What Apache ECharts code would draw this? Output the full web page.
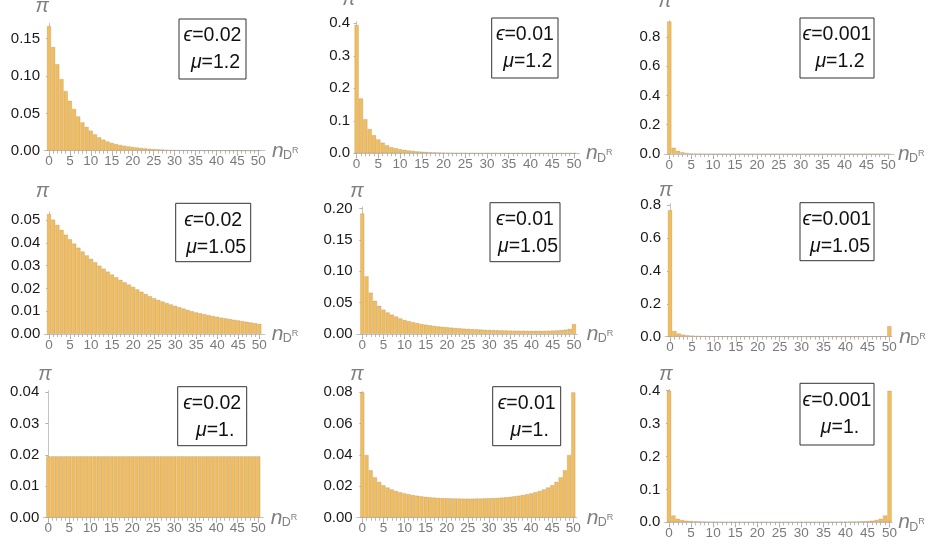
<!DOCTYPE html>
<html>
<head>
<meta charset="utf-8">
<script src="https://cdn.jsdelivr.net/npm/echarts@6/dist/echarts.min.js"></script>
<style>html,body{margin:0;padding:0;background:#fff}#c{width:930px;height:544px}</style>
</head>
<body>
<div id="c"></div>
<script>
// ---- data ----
const nValues = [0,1,2,3,4,5,6,7,8,9,10,11,12,13,14,15,16,17,18,19,20,21,22,23,24,25,26,27,28,29,30,31,32,33,34,35,36,37,38,39,40,41,42,43,44,45,46,47,48,49,50];
const xTickLabels = [0,5,10,15,20,25,30,35,40,45,50];

const pi_e002_mu120 = [0.167,0.139,0.116,0.096,0.080,0.067,0.056,0.046,0.038,0.032,
 0.027,0.022,0.018,0.015,0.0125,0.0105,0.0090,0.0078,0.0068,0.0059,
 0.0051,0.0044,0.0038,0.0032,0.0027,0.0023,0.0020,0.0017,0.0014,0.0012,
 0.0010,0.0008,0.0007,0.0006,0.0005,0.0004,0.00035,0.0003,0.00025,0.0002,
 0.00017,0.00014,0.00012,0.0001,0.00009,0.00008,0.00007,0.00006,0.00005,0.00004,
 0.00004];
const pi_e001_mu120 = [0.395,0.169,0.105,0.075,0.056,0.043,0.033,0.025,0.019,0.016,
 0.013,0.011,0.009,0.0075,0.0062,0.0052,0.0043,0.0036,0.0030,0.0025,
 0.0021,0.0017,0.0014,0.0012,0.0010,0.0008,0.0007,0.0006,0.0005,0.0004,
 0.00035,0.0003,0.00025,0.0002,0.00017,0.00014,0.00012,0.0001,0.00009,0.00008,
 0.00007,0.00006,0.00005,0.00004,0.00004,0.00003,0.00003,0.00003,0.00002,0.00002,
 0.00002];
const pi_e0001_mu120 = [0.905,0.043,0.022,0.013,0.008,0.005,0.0035,0.0025,0.0018,0.0013,
 0.0010,0.0008,0.0006,0.0005,0.0004,0.0003,0.00025,0.0002,0.00015,0.00012,
 0.0001,0.00008,0.00007,0.00006,0.00005,0.00004,0.00003,0.00003,0.00002,0.00002,
 0.00002,0.00001,0.00001,0.00001,0.00001,0.00001,0.00001,0.00001,0.00001,0.00001,
 0.00001,0.00001,0.00001,0.00001,0.00001,0.00001,0.00001,0.00001,0.00001,0.00001,
 0.00001];
const pi_e002_mu105 = [0.0526,0.0502,0.0479,0.0457,0.0436,0.0416,0.0397,0.0379,0.0362,0.0345,
 0.0330,0.0315,0.0300,0.0287,0.0274,0.0261,0.0249,0.0238,0.0227,0.0217,
 0.0207,0.0196,0.0186,0.0176,0.0166,0.0157,0.0150,0.0143,0.0136,0.0130,
 0.0124,0.0118,0.0112,0.0106,0.0100,0.0095,0.0091,0.0087,0.0083,0.0079,
 0.0076,0.0072,0.0069,0.0066,0.0063,0.0060,0.0057,0.0054,0.0051,0.0048,
 0.0045];
const pi_e001_mu105 = [0.192,0.092,0.066,0.053,0.045,0.039,0.0345,0.031,0.028,0.025,
 0.0225,0.0205,0.019,0.0175,0.016,0.015,0.014,0.013,0.0122,0.0115,
 0.011,0.0103,0.0097,0.0092,0.0087,0.0083,0.0079,0.0076,0.0072,0.0069,
 0.0067,0.0064,0.0062,0.0060,0.0058,0.0056,0.0055,0.0054,0.0053,0.0052,
 0.0052,0.0052,0.0052,0.0053,0.0054,0.0056,0.0059,0.0064,0.0071,0.0083,
 0.016];
const pi_e0001_mu105 = [0.77,0.035,0.020,0.013,0.009,0.007,0.0055,0.0045,0.0038,0.0032,
 0.0028,0.0025,0.0022,0.0020,0.0018,0.0016,0.0015,0.0014,0.0013,0.0012,
 0.0011,0.0010,0.0010,0.0009,0.0009,0.0008,0.0008,0.0004,0.0004,0.0004,
 0.0004,0.0004,0.0004,0.0004,0.0004,0.0004,0.0004,0.0004,0.0004,0.0004,
 0.0004,0.0004,0.0004,0.0004,0.0004,0.0012,0.0014,0.0017,0.0022,0.0032,
 0.065];
const pi_e002_mu100 = [0.0196,0.0196,0.0196,0.0196,0.0196,0.0196,0.0196,0.0196,0.0196,0.0196,
 0.0196,0.0196,0.0196,0.0196,0.0196,0.0196,0.0196,0.0196,0.0196,0.0196,
 0.0196,0.0196,0.0196,0.0196,0.0196,0.0196,0.0196,0.0196,0.0196,0.0196,
 0.0196,0.0196,0.0196,0.0196,0.0196,0.0196,0.0196,0.0196,0.0196,0.0196,
 0.0196,0.0196,0.0196,0.0196,0.0196,0.0196,0.0196,0.0196,0.0196,0.0196,
 0.0196];
const pi_e001_mu100 = [0.080,0.040,0.0303,0.0258,0.0229,0.0208,0.0193,0.0181,0.0171,0.0163,
 0.0156,0.0150,0.0145,0.0141,0.0137,0.0134,0.0131,0.0129,0.0127,0.0126,
 0.0125,0.0124,0.0123,0.0123,0.0122,0.0122,0.0122,0.0123,0.0123,0.0124,
 0.0125,0.0126,0.0127,0.0129,0.0131,0.0134,0.0137,0.0141,0.0145,0.0150,
 0.0156,0.0163,0.0171,0.0181,0.0193,0.0208,0.0229,0.0258,0.0303,0.040,
 0.080];
const pi_e0001_mu100 = [0.40,0.021,0.011,0.007,0.005,0.004,0.0033,0.0028,0.0025,0.0022,
 0.0020,0.0018,0.0017,0.0016,0.0015,0.0014,0.0014,0.0013,0.0013,0.0013,
 0.0012,0.0012,0.0012,0.0012,0.0012,0.0012,0.0012,0.0012,0.0012,0.0012,
 0.0012,0.0013,0.0013,0.0013,0.0014,0.0014,0.0015,0.0016,0.0017,0.0018,
 0.0020,0.0022,0.0025,0.0028,0.0033,0.0040,0.0050,0.0070,0.0110,0.021,
 0.40];

const yTicks1 = [0,0.05,0.10,0.15];
const yTicks2 = [0,0.1,0.2,0.3,0.4];
const yTicks3 = [0,0.2,0.4,0.6,0.8];
const yTicks4 = [0,0.01,0.02,0.03,0.04,0.05];
const yTicks5 = [0,0.05,0.10,0.15,0.20];
const yTicks6 = [0,0.2,0.4,0.6,0.8];
const yTicks7 = [0,0.01,0.02,0.03,0.04];
const yTicks8 = [0,0.02,0.04,0.06,0.08];
const yTicks9 = [0,0.1,0.2,0.3,0.4];

const epsLabels = ['0.02','0.01','0.001','0.02','0.01','0.001','0.02','0.01','0.001'];
const muLabels = ['1.2','1.2','1.2','1.05','1.05','1.05','1.','1.','1.'];

const seriesData = [pi_e002_mu120, pi_e001_mu120, pi_e0001_mu120,
                    pi_e002_mu105, pi_e001_mu105, pi_e0001_mu105,
                    pi_e002_mu100, pi_e001_mu100, pi_e0001_mu100];
const yTicksAll = [yTicks1,yTicks2,yTicks3,yTicks4,yTicks5,yTicks6,yTicks7,yTicks8,yTicks9];

// ---- layout (positions / sizes, not data) ----
const layout = [
 {left:44,   top:23.3,  width:221,   height:127.4, xmin:-1.19, xmax:51.6, ymax:0.1707, dec:2, box:[179,19,246,79],        piX:42.3, piB:12.7,  nX:272},
 {left:354,  top:21.7,  width:225.6, height:131.6, xmin:-0.6,  xmax:51.3, ymax:0.405,  dec:1, box:[491.7,18,558,78],     piX:349,  piB:5,     nX:586},
 {left:664.3,top:20.7,  width:229.7, height:133.3, xmin:-1.14, xmax:51.3, ymax:0.91,   dec:1, box:[800,18,874,78],       piX:665,  piB:7.3,   nX:898},
 {left:44.3, top:212,   width:220.5, height:122,   xmin:-1.12, xmax:51.3, ymax:0.0535, dec:2, box:[175.7,203.3,250.7,261.7], piX:42.5, piB:197.3, nX:271.7},
 {left:356.7,top:206.8, width:220.6, height:127.2, xmin:-1.32, xmax:50.8, ymax:0.2026, dec:2, box:[490,202.7,560,261.7], piX:357,  piB:197.3, nX:586.7},
 {left:665,  top:203.5, width:227,   height:133.2, xmin:-1.14, xmax:50.6, ymax:0.81,   dec:1, box:[800,202.7,874,260.7], piX:665.7,piB:196.7, nX:899.3},
 {left:43.3, top:390.7, width:220,   height:127,   xmin:-1.19, xmax:51.2, ymax:0.0405, dec:2, box:[177.7,386.7,246.7,445.7], piX:45, piB:380.7, nX:270.7},
 {left:356.7,top:391.5, width:220,   height:126.2, xmin:-1.33, xmax:50.8, ymax:0.0805, dec:2, box:[492.7,386.7,560.7,445.7], piX:357, piB:380.7, nX:586.7},
 {left:664.3,top:389.4, width:227.9, height:132.9, xmin:-1.07, xmax:50.6, ymax:0.404,  dec:1, box:[800,383.3,874,445],   piX:666,  piB:380.7, nX:898.3}
];

const FONT = '"Liberation Sans", Arial, Helvetica, sans-serif';
const BAR = '#F2BD5C';
const grids = [], xAxes = [], yAxes = [], series = [], graphics = [];

layout.forEach((L, i) => {
  grids.push({left:L.left, top:L.top, width:L.width, height:L.height, containLabel:false, outerBoundsMode:'none'});
  xAxes.push({
    type:'value', gridIndex:i, min:L.xmin, max:L.xmax, position:'bottom',
    splitLine:{show:false},
    axisLine:{show:true, onZero:false, lineStyle:{color:'#c4c4c4', width:1}},
    axisTick:{show:true, inside:false, length:5, customValues:xTickLabels, lineStyle:{color:'#a8a8a8', width:1}},
    axisLabel:{show:true, customValues:xTickLabels, margin:4, color:'#7a7a7a', fontSize:13.5, fontFamily:FONT}
  });
  xAxes.push({
    type:'value', gridIndex:i, min:L.xmin, max:L.xmax, position:'bottom', offset:0,
    splitLine:{show:false},
    axisLine:{show:false, onZero:false},
    axisTick:{show:true, inside:false, length:3, customValues:nValues, lineStyle:{color:'#b8b8b8', width:1}},
    axisLabel:{show:false}
  });
  const yt = yTicksAll[i];
  yAxes.push({
    type:'value', gridIndex:i, min:0, max:L.ymax, position:'left',
    splitLine:{show:false},
    axisLine:{show:true, lineStyle:{color:'#c4c4c4', width:1}},
    axisTick:{show:true, length:3, customValues:yt, lineStyle:{color:'#b4b4b4'}},
    axisLabel:{show:true, customValues:yt, margin:4, color:'#1a1a1a', fontSize:15, fontFamily:FONT,
      formatter: v => Number(v).toFixed(L.dec)}
  });
  series.push({
    type:'bar', xAxisIndex:2*i, yAxisIndex:i, barWidth:'100%',
    data: seriesData[i].map((v, k) => [nValues[k], v]),
    itemStyle:{color:BAR, borderColor:'rgba(150,125,90,0.4)', borderWidth:0.6},
    emphasis:{disabled:true}, silent:true
  });
  const b = L.box, cx = (b[0]+b[2])/2;
  graphics.push({type:'rect', shape:{x:b[0], y:b[1], width:b[2]-b[0], height:b[3]-b[1]},
    style:{fill:'#fff', stroke:'#333', lineWidth:1}, z:10});
  graphics.push({type:'text', x:cx, y:b[1]+17, z:11,
    style:{text:'{i|\u03F5}=' + epsLabels[i], align:'center', verticalAlign:'middle', fill:'#111',
      fontSize:19.5, fontFamily:FONT, rich:{i:{fontStyle:'italic', fontSize:19.5, fontFamily:FONT, fill:'#111'}}}});
  graphics.push({type:'text', x:cx+3, y:b[1]+44, z:11,
    style:{text:'{i|\u03BC}=' + muLabels[i], align:'center', verticalAlign:'middle', fill:'#111',
      fontSize:19.5, fontFamily:FONT, rich:{i:{fontStyle:'italic', fontSize:19.5, fontFamily:FONT, fill:'#111'}}}});
  graphics.push({type:'text', x:L.piX, y:L.piB + 4, z:11,
    style:{text:'\u03C0', align:'center', verticalAlign:'bottom', fill:'#808080',
      fontSize:20, fontStyle:'italic', fontFamily:FONT}});
  const ay = L.top + L.height;
  graphics.push({type:'text', x:L.nX, y:ay + 10.5, z:11,
    style:{text:'n', align:'left', verticalAlign:'bottom', fill:'#808080', fontSize:21, fontStyle:'italic', fontFamily:FONT}});
  graphics.push({type:'text', x:L.nX + 11, y:ay + 11.3, z:11,
    style:{text:'D', align:'left', verticalAlign:'bottom', fill:'#808080', fontSize:12.5, fontFamily:FONT}});
  graphics.push({type:'text', x:L.nX + 20, y:ay + 4, z:11,
    style:{text:'R', align:'left', verticalAlign:'bottom', fill:'#808080', fontSize:9, fontFamily:FONT}});
});

const chart = echarts.init(document.getElementById('c'), null, {renderer:'canvas'});
chart.setOption({
  animation:false,
  backgroundColor:'#fff',
  grid:grids, xAxis:xAxes, yAxis:yAxes, series:series, graphic:graphics
});
</script>
</body>
</html>
